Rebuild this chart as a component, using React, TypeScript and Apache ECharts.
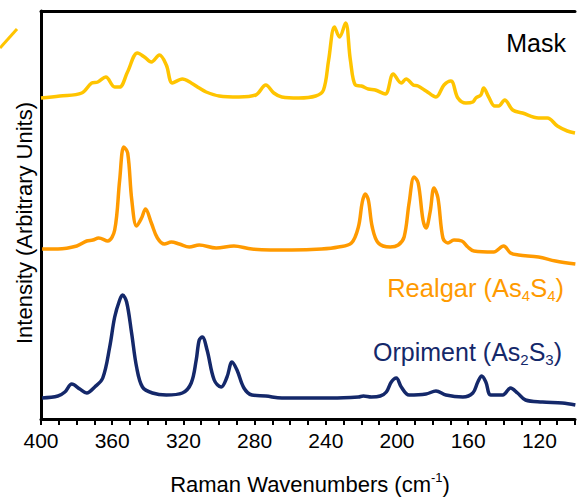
import React, { useEffect, useRef } from 'react';
import * as echarts from 'echarts';

// Raman shift (cm-1) and intensity (arbitrary units, offset traces)
const maskWavenumbers = [400, 389.4, 377.1, 371.5, 368.1, 363.6, 358.6, 355.8, 351.4, 345.8, 341.9, 338.0, 333.5, 329.6, 326.2, 320.6, 315.6, 311.1, 307.2, 299.9, 288.8, 279.3, 273.7, 269.2, 264.7, 255.2, 245.7, 241.3, 238.4, 235.1, 232.3, 228.9, 226.2, 223.4, 220.0, 216.1, 212.2, 206.6, 202.1, 197.6, 194.9, 190.9, 188.2, 183.7, 178.1, 173.6, 169.7, 165.8, 161.3, 157.4, 155.7, 152.9, 151.3, 148.5, 145.1, 142.9, 139.5, 135.0, 129.5, 120.5, 115.5, 109.9, 104.3, 100];
const maskIntensity = [321, 323, 326, 336, 337, 342, 332, 332, 347, 366, 362, 357, 364, 354, 336, 340, 336, 331, 327, 323, 322, 324, 334, 326, 322, 321, 323, 329, 359, 392, 382, 396, 359, 334, 333, 330, 329, 325, 345, 336, 340, 334, 333, 328, 322, 334, 338, 321, 316, 317, 321, 324, 331, 322, 313, 313, 319, 309, 306, 301, 301, 293, 288, 286];

const realgarWavenumbers = [399.4, 390.5, 379.9, 374.3, 370.9, 367.6, 362.5, 358.6, 355.8, 353.5, 351.3, 349.0, 346.3, 343.5, 341.3, 338.0, 334.6, 330.7, 326.8, 322.3, 316.7, 311.1, 301.6, 291.6, 281.5, 259.1, 242.4, 232.9, 225.6, 221.7, 219.5, 217.8, 216.1, 213.9, 210.5, 203.8, 199.3, 196.0, 193.2, 190.4, 188.1, 185.4, 183.7, 181.4, 179.2, 177.0, 174.2, 171.4, 168.0, 163.6, 160.2, 156.8, 145.7, 140.1, 136.2, 131.7, 120.5, 111.0, 99.8];
const realgarIntensity = [170, 170, 173, 178, 179, 181, 178, 189, 239, 272, 266, 219, 193, 201, 210, 196, 181, 175, 177, 175, 172, 174, 171, 173, 170, 169, 170, 172, 176, 192, 217, 225, 219, 192, 176, 172, 174, 182, 216, 242, 236, 199, 191, 207, 231, 221, 181, 176, 179, 178, 172, 168, 167, 173, 166, 164, 162, 158, 155];

const orpimentWavenumbers = [399.4, 390.5, 386.6, 382.7, 378.2, 374.3, 369.8, 365.3, 361.4, 358.6, 355.8, 354.2, 351.9, 349.1, 346.3, 343.0, 337.4, 329.6, 320.6, 315.6, 312.8, 311.1, 309.4, 306.7, 302.7, 298.8, 295.5, 292.7, 289.9, 286.0, 281.5, 273.7, 264.7, 236.8, 221.7, 218.9, 214.4, 209.4, 206.0, 203.2, 200.4, 197.6, 193.2, 183.7, 178.1, 172.5, 163.0, 157.4, 154.6, 152.4, 150.1, 147.3, 140.6, 136.2, 132.3, 127.8, 118.3, 107.1, 99.8];
const orpimentIntensity = [21, 23, 27, 35, 30, 26, 32, 41, 72, 102, 119, 124, 117, 86, 52, 32, 26, 24, 26, 36, 59, 79, 82, 69, 39, 32, 42, 57, 49, 31, 24, 23, 21, 21, 22, 23, 22, 23, 27, 37, 41, 32, 24, 25, 28, 24, 22, 26, 37, 43, 37, 24, 24, 31, 26, 19, 17, 16, 14];

const xTickLabels = [400, 360, 320, 280, 240, 200, 160, 120];

const FONT = 'Liberation Sans, Arial, Helvetica, sans-serif';
const MASK_COLOR = '#FFC400';
const REALGAR_COLOR = '#FF9A00';
const ORPIMENT_COLOR = '#14286A';

function pairs(xs: number[], ys: number[]) {
  return xs.map((x, i) => [x, ys[i]]);
}

export default function App() {
  const ref = useRef<HTMLDivElement>(null);

  useEffect(() => {
    if (!ref.current) return;
    const chart = echarts.init(ref.current, null, { renderer: 'svg' });
    const lineSeries = (name: string, data: number[][], color: string) => ({
      name,
      type: 'line',
      data,
      smooth: 0.35,
      showSymbol: false,
      symbol: 'none',
      lineStyle: { color, width: 3.5 },
      clip: true,
      z: 3,
    });
    const axisLineStyle = { color: '#000', width: 3 };
    chart.setOption({
      animation: false,
      backgroundColor: '#fff',
      grid: { left: 41, right: 0, top: 11, bottom: 78, containLabel: false },
      xAxis: [
        {
          type: 'value',
          min: 100,
          max: 400,
          interval: 10,
          inverse: true,
          position: 'bottom',
          axisLine: { show: true, onZero: false, lineStyle: axisLineStyle },
          axisTick: { show: true, length: 6, lineStyle: { color: '#000', width: 2 } },
          axisLabel: {
            show: true,
            margin: 11,
            fontSize: 21,
            fontFamily: FONT,
            color: '#000',
            formatter: (v: number) => (xTickLabels.includes(v) ? String(v) : ''),
          },
          splitLine: { show: false },
        },
        {
          type: 'value',
          min: 100,
          max: 400,
          inverse: true,
          position: 'top',
          axisLine: { show: true, onZero: false, lineStyle: axisLineStyle },
          axisTick: { show: false },
          axisLabel: { show: false },
          splitLine: { show: false },
        },
      ],
      yAxis: {
        type: 'value',
        min: 0,
        max: 408,
        axisLine: { show: true, onZero: false, lineStyle: axisLineStyle },
        axisTick: { show: false },
        axisLabel: { show: false },
        splitLine: { show: false },
      },
      series: [
        lineSeries('Mask', pairs(maskWavenumbers, maskIntensity), MASK_COLOR),
        lineSeries('Realgar (As4S4)', pairs(realgarWavenumbers, realgarIntensity), REALGAR_COLOR),
        lineSeries('Orpiment (As2S3)', pairs(orpimentWavenumbers, orpimentIntensity), ORPIMENT_COLOR),
      ],
      graphic: [
        {
          type: 'line',
          shape: { x1: 0, y1: 48, x2: 17, y2: 29 },
          style: { stroke: MASK_COLOR, lineWidth: 3 },
        },
        {
          type: 'text',
          x: 566,
          y: 43,
          style: {
            text: 'Mask',
            fontSize: 25,
            fontFamily: FONT,
            fill: '#000',
            align: 'right',
            verticalAlign: 'middle',
          },
        },
        {
          type: 'text',
          x: 564,
          y: 288,
          style: {
            text: '{a|Realgar (As}{b|4}{a|S}{b|4}{a|)}',
            align: 'right',
            verticalAlign: 'middle',
            rich: {
              a: { fontSize: 25.5, fontFamily: FONT, fill: REALGAR_COLOR, lineHeight: 30 },
              b: { fontSize: 15, fontFamily: FONT, fill: REALGAR_COLOR, lineHeight: 15, verticalAlign: 'bottom' },
            },
          },
        },
        {
          type: 'text',
          x: 562,
          y: 352,
          style: {
            text: '{a|Orpiment (As}{b|2}{a|S}{b|3}{a|)}',
            align: 'right',
            verticalAlign: 'middle',
            rich: {
              a: { fontSize: 25, fontFamily: FONT, fill: ORPIMENT_COLOR, lineHeight: 30 },
              b: { fontSize: 15, fontFamily: FONT, fill: ORPIMENT_COLOR, lineHeight: 15, verticalAlign: 'bottom' },
            },
          },
        },
        {
          type: 'text',
          x: 24,
          y: 223,
          rotation: Math.PI / 2,
          style: {
            text: 'Intensity (Arbitrary Units)',
            fontSize: 22,
            fontFamily: FONT,
            fill: '#000',
            align: 'center',
            verticalAlign: 'middle',
          },
        },
        {
          type: 'text',
          x: 310,
          y: 484,
          style: {
            text: '{a|Raman Wavenumbers (cm}{s|-1}{a|)}',
            align: 'center',
            verticalAlign: 'middle',
            rich: {
              a: { fontSize: 22, fontFamily: FONT, fill: '#000', lineHeight: 26 },
              s: { fontSize: 13, fontFamily: FONT, fill: '#000', lineHeight: 13, verticalAlign: 'top' },
            },
          },
        },
      ],
    });
    return () => chart.dispose();
  }, []);

  return (
    <div
      ref={ref}
      style={{ position: 'fixed', left: 0, top: 0, width: 578, height: 497, background: '#fff' }}
    />
  );
}
